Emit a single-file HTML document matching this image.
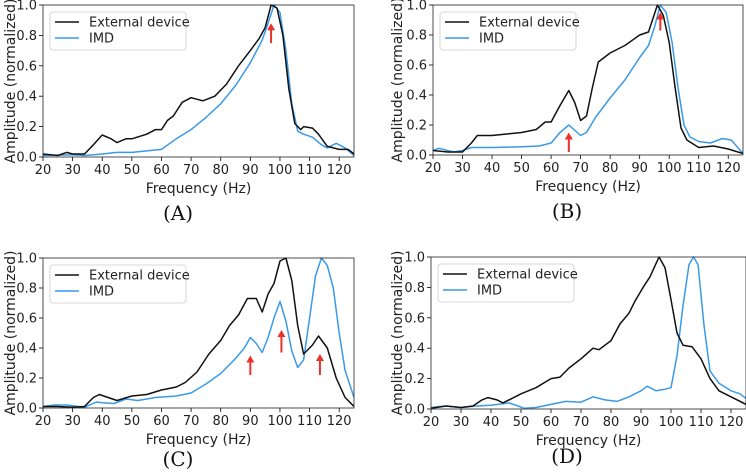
<!DOCTYPE html>
<html><head><meta charset="utf-8">
<style>
html,body{margin:0;padding:0;background:#fff;}
svg{display:block;font-family:"DejaVu Sans","Liberation Sans",sans-serif;}
</style></head>
<body>
<svg id="fig" width="746" height="472" viewBox="0 0 746 472" xmlns="http://www.w3.org/2000/svg"></svg>
<script>
const xTicks = [20,30,40,50,60,70,80,90,100,110,120];
const yTicks = [0,0.2,0.4,0.6,0.8,1.0];
const yTickLabels = ["0.0","0.2","0.4","0.6","0.8","1.0"];

const aExtF = [20,25,28,30,34,37,40,43,45,48,50,55,58,60,62,64,67,70,74,78,82,86,90,93,95,97,99,101,103,105,107,108,111,113,116,120,123,125];
const aExtV = [0.02,0.01,0.03,0.02,0.02,0.08,0.145,0.12,0.095,0.12,0.12,0.15,0.18,0.18,0.24,0.27,0.36,0.39,0.37,0.40,0.48,0.60,0.70,0.78,0.85,1.0,0.98,0.80,0.45,0.22,0.18,0.20,0.19,0.15,0.07,0.05,0.05,0.02];
const aImdF = [20,30,34,40,45,50,55,60,65,70,75,80,85,90,94,96,98,100,102,104,106,108,111,114,116,119,122,125];
const aImdV = [0.01,0.015,0.01,0.02,0.03,0.03,0.04,0.05,0.12,0.18,0.26,0.35,0.47,0.62,0.77,0.88,1.0,0.95,0.70,0.35,0.17,0.15,0.13,0.08,0.06,0.09,0.06,0.01];

const bExtF = [20,25,28,30,33,35,40,45,50,55,58,60,63,66,68,70,72,74,76,80,85,90,93,96,98,100,102,104,106,110,115,120,125];
const bExtV = [0.03,0.02,0.02,0.02,0.08,0.13,0.13,0.14,0.15,0.17,0.22,0.22,0.33,0.43,0.35,0.23,0.26,0.45,0.62,0.68,0.73,0.80,0.82,1.0,0.93,0.75,0.45,0.18,0.10,0.05,0.06,0.04,0.01];
const bImdF = [20,22,27,30,33,40,50,56,60,63,66,70,72,75,80,85,90,93,95,97,99,101,103,105,107,110,114,118,121,125];
const bImdV = [0.03,0.045,0.02,0.03,0.05,0.05,0.055,0.06,0.08,0.15,0.20,0.13,0.15,0.25,0.38,0.50,0.65,0.73,0.85,1.0,0.95,0.75,0.45,0.20,0.12,0.09,0.08,0.11,0.10,0.01];

const cExtF = [20,25,30,34,37,39,42,45,50,55,60,65,68,72,76,80,83,86,89,92,94,96,98,100,102,104,106,108,111,113,116,119,122,125];
const cExtV = [0.01,0.01,0.005,0.01,0.07,0.09,0.07,0.05,0.08,0.09,0.12,0.14,0.17,0.24,0.36,0.45,0.55,0.62,0.73,0.73,0.64,0.76,0.83,0.98,1.0,0.85,0.55,0.36,0.42,0.48,0.40,0.20,0.07,0.01];
const cImdF = [20,24,28,32,34,38,40,44,48,52,58,65,70,75,80,85,88,90,92,94,96,98,100,102,104,106,108,110,112,114,116,118,120,122,125];
const cImdV = [0.01,0.02,0.02,0.01,0.005,0.04,0.035,0.03,0.06,0.05,0.07,0.08,0.10,0.16,0.23,0.33,0.40,0.47,0.43,0.37,0.47,0.60,0.71,0.58,0.38,0.27,0.32,0.60,0.88,1.0,0.95,0.80,0.50,0.25,0.07];

const dExtF = [20,25,30,34,37,39,42,44,47,50,55,60,63,66,70,74,76,80,83,86,88,91,93,96,98,100,102,104,107,110,113,116,120,125];
const dExtV = [0.005,0.02,0.01,0.02,0.06,0.075,0.06,0.04,0.07,0.10,0.14,0.20,0.21,0.27,0.33,0.40,0.39,0.45,0.56,0.63,0.71,0.81,0.87,1.0,0.93,0.72,0.50,0.42,0.41,0.33,0.20,0.12,0.08,0.03];
const dImdF = [20,25,30,35,40,46,49,51,55,60,65,70,74,78,82,86,90,92,95,98,100,102,104,106,107.5,109,111,113,116,120,123,125];
const dImdV = [0.01,0.02,0.01,0.02,0.025,0.04,0.02,0.005,0.01,0.03,0.05,0.045,0.08,0.06,0.05,0.08,0.12,0.15,0.12,0.13,0.14,0.35,0.68,0.95,1.0,0.95,0.55,0.25,0.17,0.12,0.10,0.07];

const aArrowF = [97], aArrowLo = [0.75], aArrowHi = [0.88];
const bArrowF = [66,97], bArrowLo = [0.02,0.83], bArrowHi = [0.15,0.95];
const cArrowF = [90,100.5,113.5], cArrowLo = [0.22,0.37,0.22], cArrowHi = [0.35,0.52,0.36];
const dArrowF = [], dArrowLo = [], dArrowHi = [];

const NS = "http://www.w3.org/2000/svg";
const svg = document.getElementById("fig");
function mk(tag, attrs, parent){
  const e = document.createElementNS(NS, tag);
  for (const k in attrs) e.setAttribute(k, attrs[k]);
  (parent||svg).appendChild(e);
  return e;
}

const panels = [
  {id:"a", L:43, R:354, T:5, B:157, cap:"(A)", capX:178, capY:220, yl:10, ext:[aExtF,aExtV], imd:[aImdF,aImdV], ar:[aArrowF,aArrowLo,aArrowHi]},
  {id:"b", L:433, R:743, T:5, B:155, cap:"(B)", capX:567, capY:218, yl:397, ext:[bExtF,bExtV], imd:[bImdF,bImdV], ar:[bArrowF,bArrowLo,bArrowHi]},
  {id:"c", L:43, R:354, T:258, B:408, cap:"(C)", capX:178, capY:466, yl:10, ext:[cExtF,cExtV], imd:[cImdF,cImdV], ar:[cArrowF,cArrowLo,cArrowHi]},
  {id:"d", L:431, R:746, T:257, B:409, cap:"(D)", capX:567, capY:463, yl:397, ext:[dExtF,dExtV], imd:[dImdF,dImdV], ar:[dArrowF,dArrowLo,dArrowHi]}
];

panels.forEach(p => {
  const g = mk("g", {});
  
  
  const xs = f => p.L + (f - 20) / (125 - 20) * (p.R - p.L);
  const ys = v => p.B - v * (p.B - p.T);

  // ticks
  xTicks.forEach(t => {
    const x = xs(t);
    mk("line", {x1:x, x2:x, y1:p.B, y2:p.B+4, stroke:"#000", "stroke-width":0.8}, g);
    const tx = mk("text", {x:x, y:p.B+17, "font-size":13, "text-anchor":"middle", fill:"#222"}, g);
    tx.textContent = t;
    
    
  });
  yTicks.forEach((t, i) => {
    const y = ys(t);
    mk("line", {x1:p.L-4, x2:p.L, y1:y, y2:y, stroke:"#000", "stroke-width":0.8}, g);
    const ty = mk("text", {x:p.L-6, y:y+4.5, "font-size":13, "text-anchor":"end", fill:"#222"}, g);
    ty.textContent = yTickLabels[i];
    
    
  });
  const xt = mk("text", {x:(p.L+p.R)/2, y:p.B+36, "font-size":14, "text-anchor":"middle", fill:"#222"}, g);
  xt.textContent = "Frequency (Hz)";
  
  
  const cy = (p.T+p.B)/2;
  const yt = mk("text", {x:0, y:0, "font-size":14, "text-anchor":"middle", fill:"#222", transform:`translate(${p.yl+5},${cy}) rotate(-90)`}, g);
  yt.textContent = "Amplitude (normalized)";
  
  

  // clip
  const cp = mk("clipPath", {id:"clip"+p.id}, g);
  mk("rect", {x:p.L, y:p.T-2, width:p.R-p.L, height:p.B-p.T+2}, cp);

  const line = (F, V, color, name) => {
    const d = F.map((f, i) => (i ? "L" : "M") + xs(f).toFixed(1) + "," + ys(V[i]).toFixed(1)).join(" ");
    const pa = mk("path", {d:d, fill:"none", stroke:color, "stroke-width":1.5, "stroke-linejoin":"round", "clip-path":`url(#clip${p.id})`}, g);
    
    
  };
  line(p.imd[0], p.imd[1], "#3a9ae8", "imd-line");
  line(p.ext[0], p.ext[1], "#111", "external-device-line");

  // arrows
  p.ar[0].forEach((f, i) => {
    const x = xs(f), y1 = ys(p.ar[1][i]), y2 = ys(p.ar[2][i]);
    const ag = mk("g", {}, g);
    
    
    mk("line", {x1:x, x2:x, y1:y1, y2:y2+6, stroke:"#e8322a", "stroke-width":2}, ag);
    mk("polygon", {points:`${x-4},${y2+7} ${x+4},${y2+7} ${x},${y2}`, fill:"#e8322a"}, ag);
  });

  mk("rect", {x:p.L, y:p.T, width:p.R-p.L, height:p.B-p.T, fill:"none", stroke:"#222", "stroke-width":0.8}, g);

  // legend
  const lg = mk("g", {}, g);
  
  
  const lx = p.L+7, ly = p.T+7;
  mk("rect", {x:lx, y:ly, width:136, height:38, rx:3, fill:"#fff", stroke:"#ccc", "stroke-width":0.8}, lg);
  [["External device","#111"],["IMD","#3a9ae8"]].forEach((e, i) => {
    const yy = ly + 10 + i*16;
    const sw = mk("line", {x1:lx+5, x2:lx+29, y1:yy, y2:yy, stroke:e[1], "stroke-width":1.5}, lg);
    
    
    const t = mk("text", {x:lx+39, y:yy+4.5, "font-size":13, fill:"#222"}, lg);
    t.textContent = e[0];
    
    
  });

  const cap = mk("text", {x:p.capX, y:p.capY, "font-size":20, "text-anchor":"middle", fill:"#111", "font-family":"'DejaVu Serif','Liberation Serif',serif"}, g);
  cap.textContent = p.cap;
  
  
});
</script>
</body></html>
